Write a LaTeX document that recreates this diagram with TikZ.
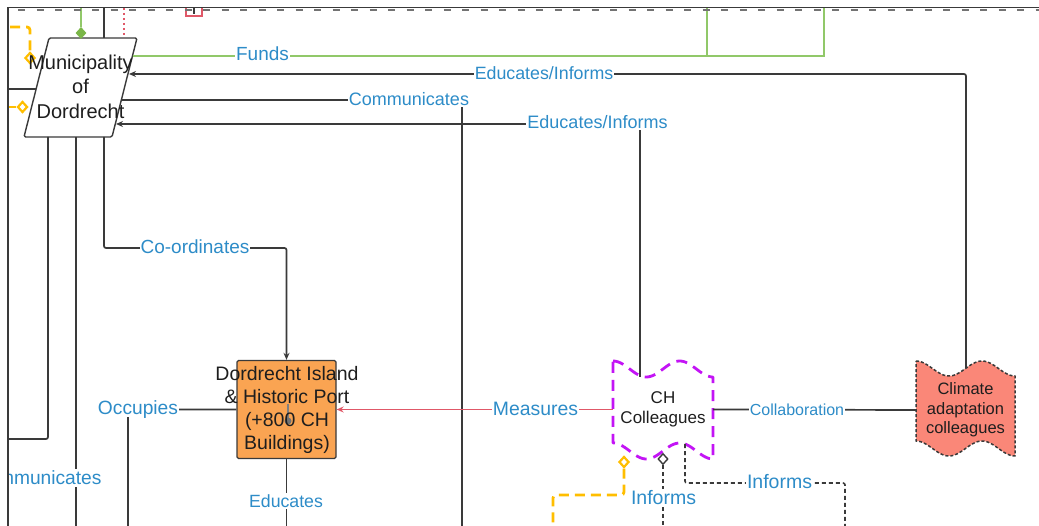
\documentclass[tikz,border=0pt]{standalone}
\usepackage{fontspec}
\setmainfont{Liberation Sans}
\usetikzlibrary{arrows.meta,shapes.geometric}
\definecolor{lblue}{RGB}{45,140,200}
\definecolor{dline}{RGB}{58,58,58}
\definecolor{gline}{RGB}{145,200,105}
\definecolor{gfill}{RGB}{122,182,72}
\definecolor{rline}{RGB}{224,88,104}
\definecolor{yline}{RGB}{255,190,0}
\definecolor{pline}{RGB}{195,20,245}
\definecolor{orfill}{RGB}{250,164,82}
\definecolor{salmonf}{RGB}{250,135,120}
\definecolor{txtc}{RGB}{30,30,30}
\newcommand\mywave[6]{%
  \path[#1] plot[domain=0:#4, samples=60, variable=\t] ({#2+\t},{#3+#6-#6*cos(540*(\t/#4))})
    -- plot[domain=#4:0, samples=60, variable=\t] ({#2+\t},{#3+#5+#6-#6*cos(540*(\t/#4))}) -- cycle;}
\begin{document}
\begin{tikzpicture}[x=1pt,y=-1pt,
  conn/.style={draw=dline, line width=1.7pt, rounded corners=2pt},
  arr/.style={-{Stealth[length=7pt,width=6pt]}},
  gconn/.style={draw=gline, line width=1.7pt},
  rdot/.style={draw=rline, line width=1.3pt, dash pattern=on 2pt off 3pt},
  ydash/.style={draw=yline, line width=2.8pt, dash pattern=on 10pt off 6pt, rounded corners=3pt},
  bdash/.style={draw=dline, line width=1.6pt, dash pattern=on 4pt off 3pt, rounded corners=2pt},
  lbl/.style={fill=white, inner sep=1pt, text=lblue, text height={#1*0.75pt}, text depth={#1*0.06pt}, font=\fontsize{#1}{#1}\selectfont},
  lbl/.default=18,
  txt/.style={text=txtc, align=center, inner sep=0pt},
  ydiam/.style={diamond, draw=yline, fill=white, line width=2.2pt, minimum width=10pt, minimum height=11pt, inner sep=0pt},
  bdiam/.style={diamond, draw=dline, fill=white, line width=1.4pt, minimum width=10pt, minimum height=11pt, inner sep=0pt},
  gdiam/.style={diamond, draw=gfill, fill=gfill, line width=0.8pt, minimum width=10pt, minimum height=11pt, inner sep=0pt},
  pwave/.style={draw=pline, line width=2.8pt, dash pattern=on 11pt off 7pt, fill=white, line join=round},
  cwave/.style={draw=dline, line width=1.5pt, dash pattern=on 3pt off 2pt, fill=salmonf, line join=round}
]
\useasboundingbox (0,0) rectangle (1039,526);
\begin{scope}
\clip (8,8) rectangle (1039,526);
% ---------- shapes ----------
\draw[dline, line width=1.4pt, fill=white, rounded corners=1.5pt] (49,38) -- (137,38) -- (112,137) -- (24,137) -- cycle;
\node[draw=dline, fill=orfill, line width=1.3pt, rounded corners=1.5pt, minimum width=99pt, minimum height=98pt, inner sep=0pt] (isl) at (286.5,409.5) {};
\mywave{pwave}{613}{361}{100}{82}{8}
\mywave{cwave}{916}{361}{99}{80}{7.5}
\node[txt, minimum width=100pt, minimum height=82pt, font=\fontsize{17}{20}\selectfont] (ch) at (663,409.5) {CH\\Colleagues};
\node[txt, minimum width=99pt, minimum height=80pt, font=\fontsize{16.5}{19.5}\selectfont] (cl) at (965.5,410) {Climate\\adaptation\\colleagues};
% ports
\coordinate (munF) at (132.5,56);
\coordinate (munE1) at (129,74);
\coordinate (munC) at (122,100);
\coordinate (munE2) at (116,124);
\coordinate (munL) at (36,89);
\coordinate (munB1) at (48,137);
\coordinate (munB2) at (76,137);
\coordinate (munB3) at (104,137);
\coordinate (munT2) at (104,38);
\coordinate (munT3) at (124,38);
\coordinate (chT) at (640,377);
\coordinate (chB) at (685,444);
\coordinate (clT) at (966,368);
% ---------- connectors ----------
\draw[gconn] (munF) -- (824,56) -- (824,8);
\draw[gconn] (707,8) -- (707,56);
\draw[conn, arr] (clT) -- (966,74) -- (munE1);
\draw[conn] (munC) -- (462,100) -- (462,526);
\draw[conn, arr] (chT) -- (640,124) -- (munE2);
\draw[conn, arr] (munB3) -- (104,248) -- (286.5,248) -- (isl.north);
\draw[conn] (munB1) -- (48,439) -- (8,439);
\draw[conn] (munB2) -- (76,526);
\draw[conn] (8,89) -- (munL);
\draw[conn] (104,8) -- (munT2);
\draw[rdot] (124,8) -- (munT3);
\node[gdiam] (gd) at (81,33) {};
\draw[gconn] (81,8) -- (gd.north);
\draw[draw=rline, line width=1.3pt] (186,5) rectangle (202,16);
\draw[dline, line width=1.1pt] (194,8) -- (194,14);
\node[ydiam] (yd0) at (30,58) {};
\draw[ydash] (10,27) -- (30,27) -- (yd0.north);
\node[ydiam] (yd1) at (22.5,107) {};
\draw[ydash] (8,107) -- (yd1.west);
\draw[conn] (isl.west) -| (128,526);
\draw[conn] (isl.south) -- (286.5,526);
\draw[draw=rline, line width=1.6pt, -{Stealth[length=7pt,width=6pt]}] (ch.west) -- (isl.east);
\draw[conn] (ch.east) -- (cl.west);
\node[ydiam] (yd2) at (624,462) {};
\draw[ydash] (yd2.south) -- (624,495) -- (553,495) -- (553,526);
\node[bdiam] (bd) at (663,459) {};
\draw[bdash] (bd.south) -- (663,526);
\draw[bdash] (chB) -- (685,483) -- (845,483) -- (845,526);
% cursor mark inside island box
\draw[black!50, line width=1.2pt] (288,404) -- (288,419);
\fill[black!55] (288,421) circle (3.5);
% ---------- texts ----------
\node[txt, font=\fontsize{20}{24.5}\selectfont] (mun) at (80.5,86.5) {Municipality\\of\\Dordrecht};
\node[txt, font=\fontsize{19.5}{23.3}\selectfont] (islt) at (287,410) {Dordrecht Island\\\& Historic Port\\(+800 CH\\Buildings)};
\node[lbl=19] (l1) at (262.5,54) {Funds};
\node[lbl=17.8] (l2) at (544,73) {Educates/Informs};
\node[lbl=18] (l3) at (409,99) {Communicates};
\node[lbl=18] (l4) at (597.5,122) {Educates/Informs};
\node[lbl=19] (l5) at (195,247) {Co-ordinates};
\node[lbl=19.2] (l6) at (138,408) {Occupies};
\node[lbl=19.4] (l7) at (535.5,409) {Measures};
\node[lbl=16] (l8) at (797,410) {Collaboration};
\node[lbl=17.7] (l9) at (286,501) {Educates};
\node[lbl=19.5] (l10) at (663.5,498) {Informs};
\node[lbl=19.5] (l11) at (779.5,482) {Informs};
\node[lbl=19.2] (l12) at (37.5,478) {Communicates};
\end{scope}
% ---------- frame ----------
\draw[black!55, line width=2.2pt, dash pattern=on 7pt off 11.5pt, dash phase=8.5pt] (8,10) -- (1039,10);
\draw[dline, line width=1.8pt] (8,526) -- (8,7.5) -- (1039,7.5);
\end{tikzpicture}
\end{document}
